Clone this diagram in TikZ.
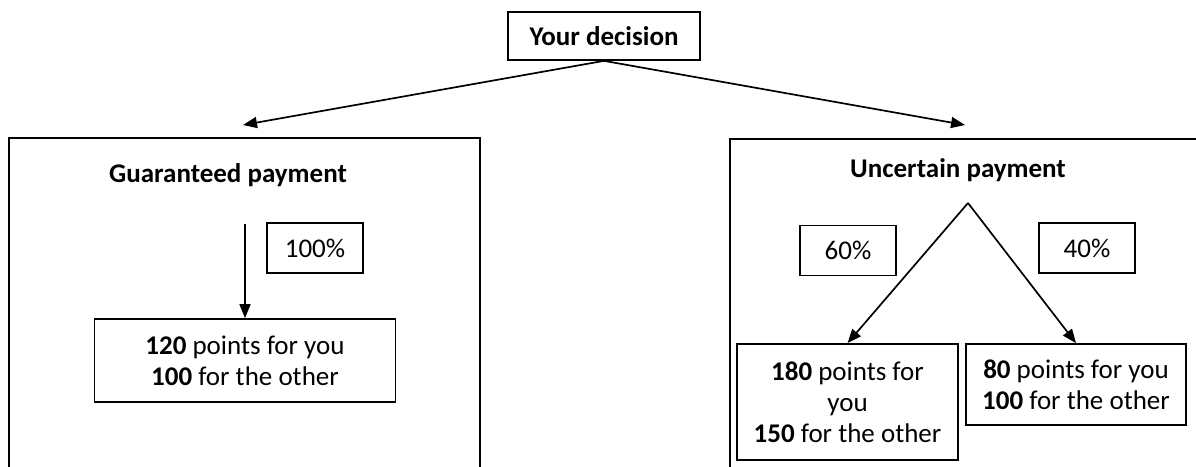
\documentclass[tikz,border=0pt]{standalone}
\usepackage{fontspec}
\setmainfont{Carlito}
\usetikzlibrary{arrows.meta}
\tikzset{
  box/.style={draw, line width=1.7pt, align=center, inner sep=0pt},
  pct/.style={box, minimum width=96pt, minimum height=50pt},
  link/.style={line width=1.7pt, -{Triangle[length=14pt,width=11pt]}},
}
\begin{document}
\begin{tikzpicture}[x=1pt,y=-1pt,font=\fontsize{27}{31}\selectfont]
\useasboundingbox (0,0) rectangle (1196,466);
\clip (0,0) rectangle (1196,466);
% the two option frames, cut by the page edge
\draw [line width=1.7pt] (9,138) rectangle (480,500);
\draw [line width=1.7pt] (730,139) rectangle (1230,500);
\node [box, minimum width=192pt, minimum height=48pt, font=\fontsize{27}{31}\selectfont\bfseries] (dec) at (604,36) {Your decision};
\coordinate (gl) at (243,125);
\coordinate (gr) at (965,125);
\draw [link] (dec.south) -- (gl);
\draw [link] (dec.south) -- (gr);
% guaranteed side
\node [font=\fontsize{27}{31}\selectfont\bfseries] (gtitle) at (228,175) {Guaranteed payment};
\node [pct] (p100) at (315,248) {100\%};
\node [box, minimum width=301pt, minimum height=83pt] (gout) at (245,360.5) {\textbf{120} points for you\\\textbf{100} for the other};
\coordinate (gtop) at (245,224);
\draw [link] (gtop) -- (gout.north);
% uncertain side
\node [font=\fontsize{27}{31}\selectfont\bfseries] (utitle) at (958,170) {Uncertain payment};
\coordinate (apex) at (968,203);
\node [pct] (p60) at (848,250.5) {60\%};
\node [pct] (p40) at (1087,248) {40\%};
\node [box, minimum width=221pt, minimum height=116pt] (uoutA) at (847.5,402) {\textbf{180} points for\\you\\\textbf{150} for the other};
\node [box, minimum width=220pt, minimum height=81pt] (uoutB) at (1076,384.5) {\textbf{80} points for you\\\textbf{100} for the other};
\draw [link] (apex) -- (uoutA.north);
\draw [link] (apex) -- (uoutB.north);
\end{tikzpicture}
\end{document}
